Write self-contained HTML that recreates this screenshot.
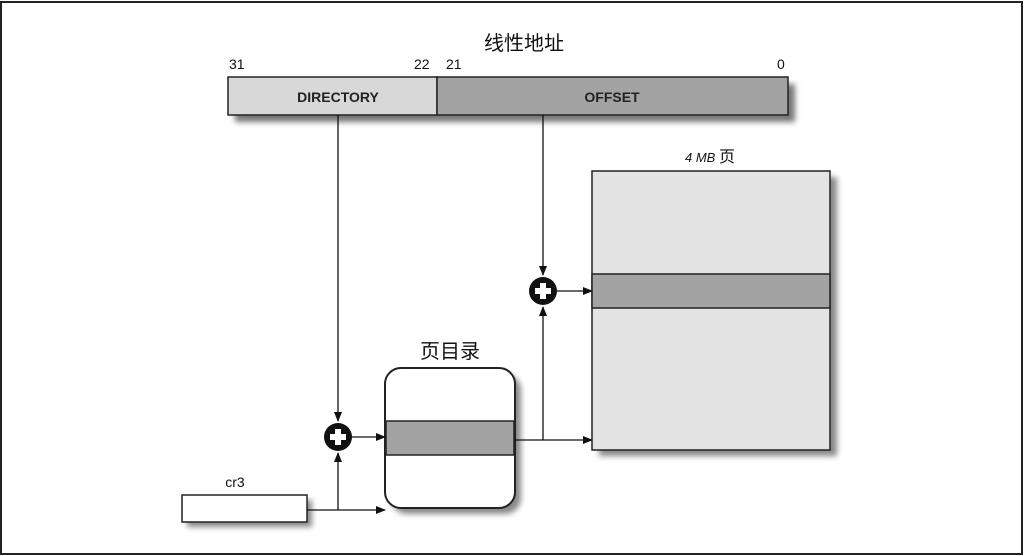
<!DOCTYPE html>
<html><head><meta charset="utf-8"><style>
html,body{margin:0;padding:0;background:#fff;}
svg{display:block;}
text{font-family:"Liberation Sans","Noto Sans CJK SC",sans-serif;}
</style></head><body>
<svg width="1024" height="556" viewBox="0 0 1024 556" xmlns="http://www.w3.org/2000/svg">
<defs>
<marker id="a" markerWidth="10" markerHeight="8" refX="9" refY="4" orient="auto" markerUnits="userSpaceOnUse">
<path d="M0,0 L10,4 L0,8 z" fill="#111"/></marker>
<filter id="sh" x="-10%" y="-10%" width="130%" height="130%"><feGaussianBlur stdDeviation="3"/></filter>
</defs>
<rect x="1" y="2" width="1021" height="552" fill="none" stroke="#222" stroke-width="2"/>
<text x="524" y="50" font-size="20" text-anchor="middle" fill="#111">线性地址</text>
<text x="229" y="69" font-size="14" fill="#111">31</text>
<text x="414" y="69" font-size="14" fill="#111">22</text>
<text x="446" y="69" font-size="14" fill="#111">21</text>
<text x="777" y="69" font-size="14" fill="#111">0</text>
<!-- address bar -->
<rect x="235" y="84" width="560" height="38" fill="#777" filter="url(#sh)"/>
<rect x="228" y="77" width="209" height="38" fill="#d8d8d8" stroke="#222" stroke-width="1.5"/>
<rect x="437" y="77" width="351" height="38" fill="#a3a3a3" stroke="#222" stroke-width="1.5"/>
<text x="338" y="102" font-size="14" font-weight="bold" text-anchor="middle" fill="#222">DIRECTORY</text>
<text x="612" y="102" font-size="14" font-weight="bold" text-anchor="middle" fill="#222">OFFSET</text>
<!-- 4MB page -->
<text x="710" y="162" font-size="16" text-anchor="middle" fill="#111"><tspan font-style="italic" font-size="13">4 MB </tspan>页</text>
<rect x="599" y="177" width="238" height="279" fill="#888" filter="url(#sh)"/>
<rect x="592" y="171" width="238" height="279" fill="#e3e3e3" stroke="#222" stroke-width="1.5"/>
<rect x="592" y="274" width="238" height="34" fill="#a3a3a3" stroke="#222" stroke-width="1.5"/>
<!-- page directory -->
<text x="450" y="358" font-size="20" text-anchor="middle" fill="#111">页目录</text>
<rect x="391" y="374" width="130" height="140" rx="16" fill="#888" filter="url(#sh)"/>
<rect x="385" y="368" width="130" height="140" rx="16" fill="#fff" stroke="#222" stroke-width="2"/>
<rect x="386" y="421" width="128" height="34" fill="#a3a3a3" stroke="#222" stroke-width="1.5"/>
<!-- cr3 -->
<text x="235" y="487" font-size="14" text-anchor="middle" fill="#111">cr3</text>
<rect x="187" y="500" width="125" height="27" fill="#888" filter="url(#sh)"/>
<rect x="182" y="495" width="125" height="27" fill="#fff" stroke="#222" stroke-width="1.5"/>
<!-- connectors -->
<g stroke="#111" stroke-width="1.3" fill="none">
<line x1="338" y1="115" x2="338" y2="421" marker-end="url(#a)"/>
<line x1="543" y1="115" x2="543" y2="275" marker-end="url(#a)"/>
<line x1="307" y1="510" x2="385" y2="510" marker-end="url(#a)"/>
<line x1="338" y1="510" x2="338" y2="453" marker-end="url(#a)"/>
<line x1="352" y1="437" x2="385" y2="437" marker-end="url(#a)"/>
<line x1="515" y1="440" x2="592" y2="440" marker-end="url(#a)"/>
<line x1="543" y1="440" x2="543" y2="307" marker-end="url(#a)"/>
<line x1="557" y1="291" x2="592" y2="291" marker-end="url(#a)"/>
</g>
<!-- plus circles -->
<g>
<circle cx="338" cy="437" r="14" fill="#111"/>
<rect x="335" y="429" width="6" height="16" fill="#fff"/><rect x="330" y="434" width="16" height="6" fill="#fff"/>
<circle cx="543" cy="291" r="14" fill="#111"/>
<rect x="540" y="283" width="6" height="16" fill="#fff"/><rect x="535" y="288" width="16" height="6" fill="#fff"/>
</g>
</svg>
</body></html>
